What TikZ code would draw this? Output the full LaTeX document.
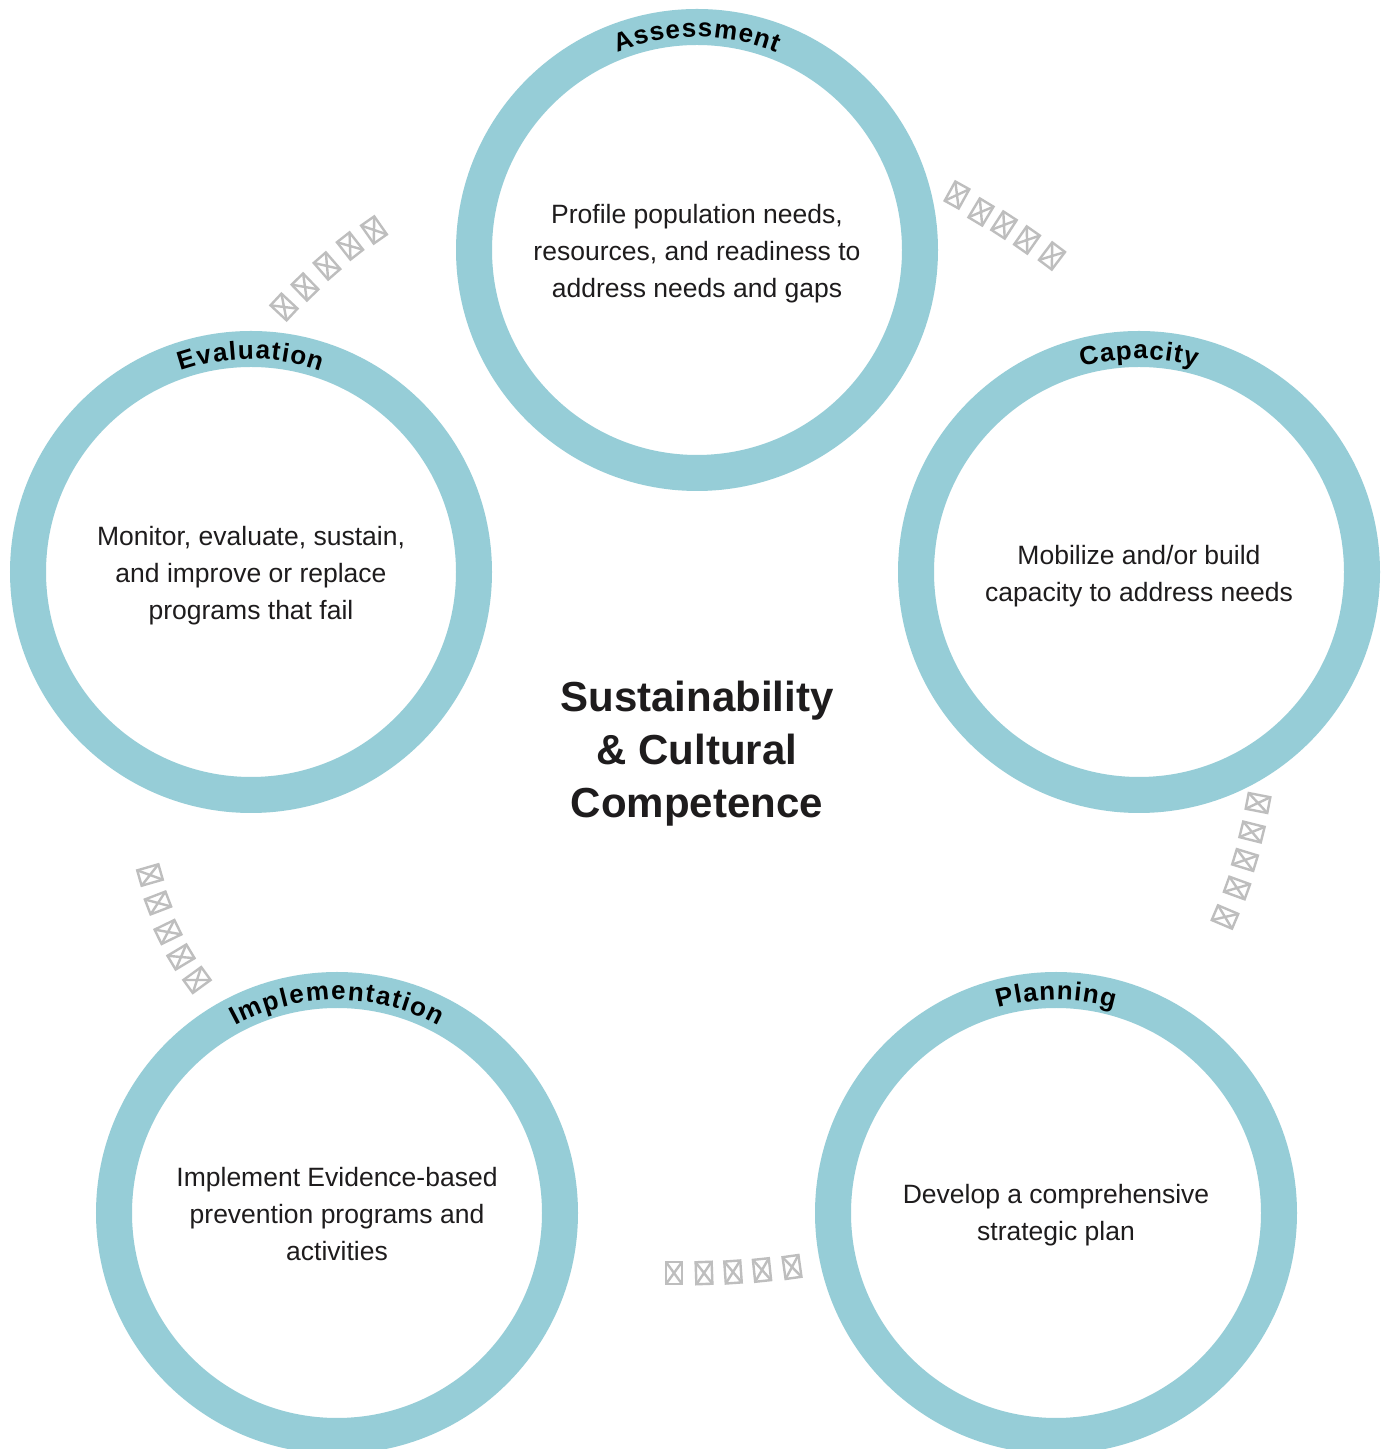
\documentclass[tikz,border=0pt]{standalone}
\usepackage{fontspec}
\setmainfont{Liberation Sans}
\usetikzlibrary{decorations.text}

\definecolor{ringblue}{RGB}{150,205,215}
\definecolor{tofugray}{RGB}{190,190,190}
\definecolor{inkdark}{RGB}{30,28,29}

\newcommand\ringtitlefont{\fontsize{26}{30}\selectfont\bfseries}

\tikzset{
  ring/.style={circle, draw=ringblue, line width=36pt, inner sep=0pt,
               minimum size=446pt},
  bodytext/.style={align=center, text=inkdark,
                   font=\fontsize{26.5}{37}\selectfont},
  coretext/.style={align=center, text=inkdark,
                   font=\fontsize{42}{53}\selectfont\bfseries},
  tofuline/.style={draw=tofugray, line width=2.4pt, line join=miter},
  tofu/.pic={
    \draw[tofuline] (-8pt,-11pt) rectangle (8pt,11pt);
    \draw[tofuline] (-8pt,-11pt) -- (8pt,11pt)
                    (-8pt,11pt) -- (8pt,-11pt);
  },
}

% curved title along the top of a ring
\newcommand\ringtitle[3]{% centre node, half angle, text
  \path[decorate, decoration={text along path, text align=fit to path,
        text={|\ringtitlefont|#3}}]
    (#1) ++({90+#2}:213pt) arc[start angle={90+#2}, end angle={90-#2}, radius=213pt];
}

\begin{document}
\begin{tikzpicture}[x=1pt, y=1pt]
  \useasboundingbox (0,0) rectangle (1384,1449);
  \fill[white] (0,0) rectangle (1384,1449);

  % the five stages
  \node[ring] (assess) at (697,1199) {};
  \node[ring] (capac)  at (1139,877) {};
  \node[ring] (plan)   at (1056,236) {};
  \node[ring] (impl)   at (337,236)  {};
  \node[ring] (evalu)  at (251,877)  {};

  \ringtitle{assess}{22}{Assessment}
  \ringtitle{capac}{15.6}{Capacity}
  \ringtitle{plan}{15.8}{Planning}
  \ringtitle{impl}{28.6}{Implementation}
  \ringtitle{evalu}{19.2}{Evaluation}

  \node[bodytext, yshift=-4pt] (assesstxt) at (assess) {Profile population needs,\\resources, and readiness to\\address needs and gaps};
  \node[bodytext, yshift=-4pt] (capactxt) at (capac) {Mobilize and/or build\\capacity to address needs};
  \node[bodytext, yshift=-2pt] (plantxt) at (plan) {Develop a comprehensive\\strategic plan};
  \node[bodytext, yshift=-1pt] (impltxt) at (impl) {Implement Evidence-based\\prevention programs and\\activities};
  \node[bodytext, yshift=-4pt] (evalutxt) at (evalu) {Monitor, evaluate, sustain,\\and improve or replace\\programs that fail};

  \node[coretext] (core) at (697,695) {Sustainability\\\& Cultural\\Competence};

  % links between the stages
  \foreach \px/\py/\rot in {957/1254/-29, 981/1237/-31, 1004/1224/-33, 1027/1209/-35, 1052/1193/-37}
    \pic[rotate=\rot] at (\px,\py) {tofu};
  \foreach \px/\py/\rot in {1258/646/-101, 1252/617/-104, 1245/589/-107, 1237/561/-110, 1225/532/-113}
    \pic[rotate=\rot] at (\px,\py) {tofu};
  \foreach \px/\py/\rot in {792/182/188, 762/179/186, 733/177/184, 704/176/182, 674/176/180}
    \pic[rotate=\rot] at (\px,\py) {tofu};
  \foreach \px/\py/\rot in {197/469/126, 181/492/121, 168/517/116, 158/546/111, 150/574/106}
    \pic[rotate=\rot] at (\px,\py) {tofu};
  \foreach \px/\py/\rot in {284/1142/47, 305/1162/44, 327/1183/41, 350/1203/38, 374/1219/35}
    \pic[rotate=\rot] at (\px,\py) {tofu};
\end{tikzpicture}
\end{document}
